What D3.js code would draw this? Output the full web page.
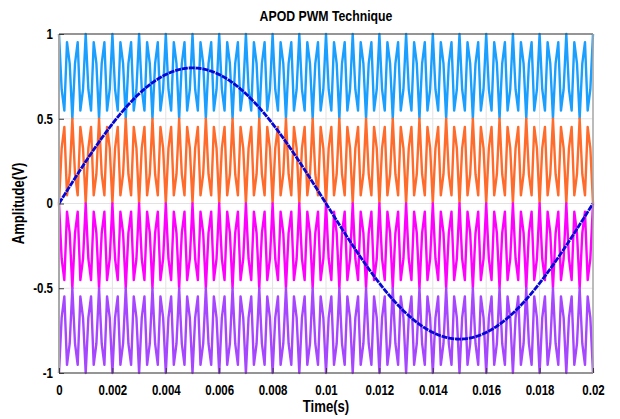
<!DOCTYPE html>
<html>
<head>
<meta charset="utf-8">
<script src="https://cdn.jsdelivr.net/npm/d3@7/dist/d3.min.js"></script>
<style>
  html, body { margin: 0; padding: 0; background: #ffffff; }
  svg { display: block; }
  text { font-family: "Liberation Sans", Arial, sans-serif; font-weight: bold; fill: #000; }
</style>
</head>
<body>
<svg id="chart" width="620" height="419"></svg>
<script>
// Axis ticks
const xTicks = [0, 0.002, 0.004, 0.006, 0.008, 0.01, 0.012, 0.014, 0.016, 0.018, 0.02];
const xTickLabels = ["0", "0.002", "0.004", "0.006", "0.008", "0.01", "0.012", "0.014", "0.016", "0.018", "0.02"];
const yTicks = [-1, -0.5, 0, 0.5, 1];
const yTickLabels = ["-1", "-0.5", "0", "0.5", "1"];

// Carrier bands (alternate phase opposition disposition), top to bottom
const bandNames  = ["carrier1", "carrier2", "carrier3", "carrier4"];
const bandLow    = [0.5, 0, -0.5, -1];
const bandHigh   = [1, 0.5, 0, -0.5];
const bandPhase  = [1, -1, 1, -1];          // +1 in phase, -1 opposed
const bandColors = ["#1a9fff", "#ff6b2b", "#ff00ff", "#a646ff"];

// Reference (modulating) wave and simulation settings
const refAmplitude = [0.8];
const refFrequency = [50];        // Hz
const carrierFrequency = [3000];  // Hz
const sampleStep = [1e-4];        // s, fixed solver step
const refPoints = [2000];
const timeSpan = [0, 0.02];

const NARROW = 0.82;  // horizontal squeeze for the condensed label face

const svg = d3.select("#chart");
const m = { left: 59, right: 593, top: 34, bottom: 373 };

const x = d3.scaleLinear().domain(timeSpan).range([m.left, m.right]);
const y = d3.scaleLinear().domain([-1, 1]).range([m.bottom, m.top]);

// solver sample times
const nSteps = Math.round((timeSpan[1] - timeSpan[0]) / sampleStep[0]);
const times = d3.range(nSteps + 1).map(i => timeSpan[0] + i * sampleStep[0]);

// grid
const grid = svg.append("g");
grid.selectAll("line.gx").data(xTicks).join("line")
  .attr("x1", d => x(d)).attr("x2", d => x(d))
  .attr("y1", m.top).attr("y2", m.bottom)
  .attr("stroke", "#e3e3e3").attr("stroke-width", 1);
grid.selectAll("line.gy").data(yTicks).join("line")
  .attr("x1", m.left).attr("x2", m.right)
  .attr("y1", d => y(d)).attr("y2", d => y(d))
  .attr("stroke", "#e3e3e3").attr("stroke-width", 1);

const plot = svg.append("g");
const line = d3.line().x(d => x(d[0])).y(d => y(d[1]));

// carriers
bandNames.forEach((name, k) => {
  const mid = (bandLow[k] + bandHigh[k]) / 2;
  const half = (bandHigh[k] - bandLow[k]) / 2;
  const pts = times.map(t => [t, mid + bandPhase[k] * half * Math.cos(2 * Math.PI * carrierFrequency[0] * t)]);
  plot.append("path")
    .datum(pts)
    .attr("class", name)
    .attr("d", line)
    .attr("fill", "none")
    .attr("stroke", bandColors[k])
    .attr("stroke-width", 2.4)
    .attr("stroke-linejoin", "round");
});

// modulating sine
const refTimes = d3.range(refPoints[0] + 1).map(i => timeSpan[0] + i * (timeSpan[1] - timeSpan[0]) / refPoints[0]);
const refPts = refTimes.map(t => [t, refAmplitude[0] * Math.sin(2 * Math.PI * refFrequency[0] * t)]);
plot.append("path")
  .datum(refPts)
  .attr("d", line)
  .attr("fill", "none")
  .attr("stroke", "#0606d6")
  .attr("stroke-width", 2.8)
  .attr("stroke-dasharray", "6,0.9");

// axes box
svg.append("line").attr("x1", m.left).attr("x2", m.right).attr("y1", m.top).attr("y2", m.top)
  .attr("stroke", "#3a3a3a").attr("stroke-width", 1.2);
svg.append("line").attr("x1", m.left).attr("x2", m.right).attr("y1", m.bottom).attr("y2", m.bottom)
  .attr("stroke", "#3a3a3a").attr("stroke-width", 1.2);
svg.append("line").attr("x1", m.left).attr("x2", m.left).attr("y1", m.top).attr("y2", m.bottom)
  .attr("stroke", "#a8a8a8").attr("stroke-width", 2);
svg.append("line").attr("x1", m.right).attr("x2", m.right).attr("y1", m.top).attr("y2", m.bottom)
  .attr("stroke", "#a8a8a8").attr("stroke-width", 1.5);

// squeeze tick text horizontally around its own anchor
function narrowTicks(sel) {
  sel.selectAll(".tick text").each(function () {
    const t = d3.select(this);
    const tx = +(t.attr("x") || 0);
    t.attr("x", tx / NARROW).attr("transform", `scale(${NARROW},1)`);
  });
}

// axes with tick labels
const xAxis = d3.axisBottom(x).tickValues(xTicks)
  .tickFormat((d, i) => xTickLabels[i]).tickSizeInner(-5).tickSizeOuter(0).tickPadding(12);
const gx = svg.append("g").attr("transform", `translate(0,${m.bottom})`).call(xAxis);
gx.select(".domain").remove();
gx.selectAll("line").attr("stroke", "#3a3a3a");
gx.selectAll("text").attr("font-size", 14).style("font-family", null);
narrowTicks(gx);

const yAxis = d3.axisLeft(y).tickValues(yTicks)
  .tickFormat((d, i) => yTickLabels[i]).tickSizeInner(-5).tickSizeOuter(0).tickPadding(6);
const gy = svg.append("g").attr("transform", `translate(${m.left},0)`).call(yAxis);
gy.select(".domain").remove();
gy.selectAll("line").attr("stroke", "#3a3a3a");
gy.selectAll("text").attr("font-size", 14).style("font-family", null);
narrowTicks(gy);

// titles
function narrowLabel(cx, cy, rot, size, str) {
  svg.append("text")
    .attr("transform", `translate(${cx},${cy}) rotate(${rot}) scale(${NARROW},1)`)
    .attr("text-anchor", "middle").attr("font-size", size).text(str);
}
narrowLabel((m.left + m.right) / 2, 21, 0, 15, "APOD PWM Technique");
narrowLabel((m.left + m.right) / 2, 412, 0, 16, "Time(s)");
narrowLabel(24, (m.top + m.bottom) / 2, -90, 16, "Amplitude(V)");
</script>
</body>
</html>
